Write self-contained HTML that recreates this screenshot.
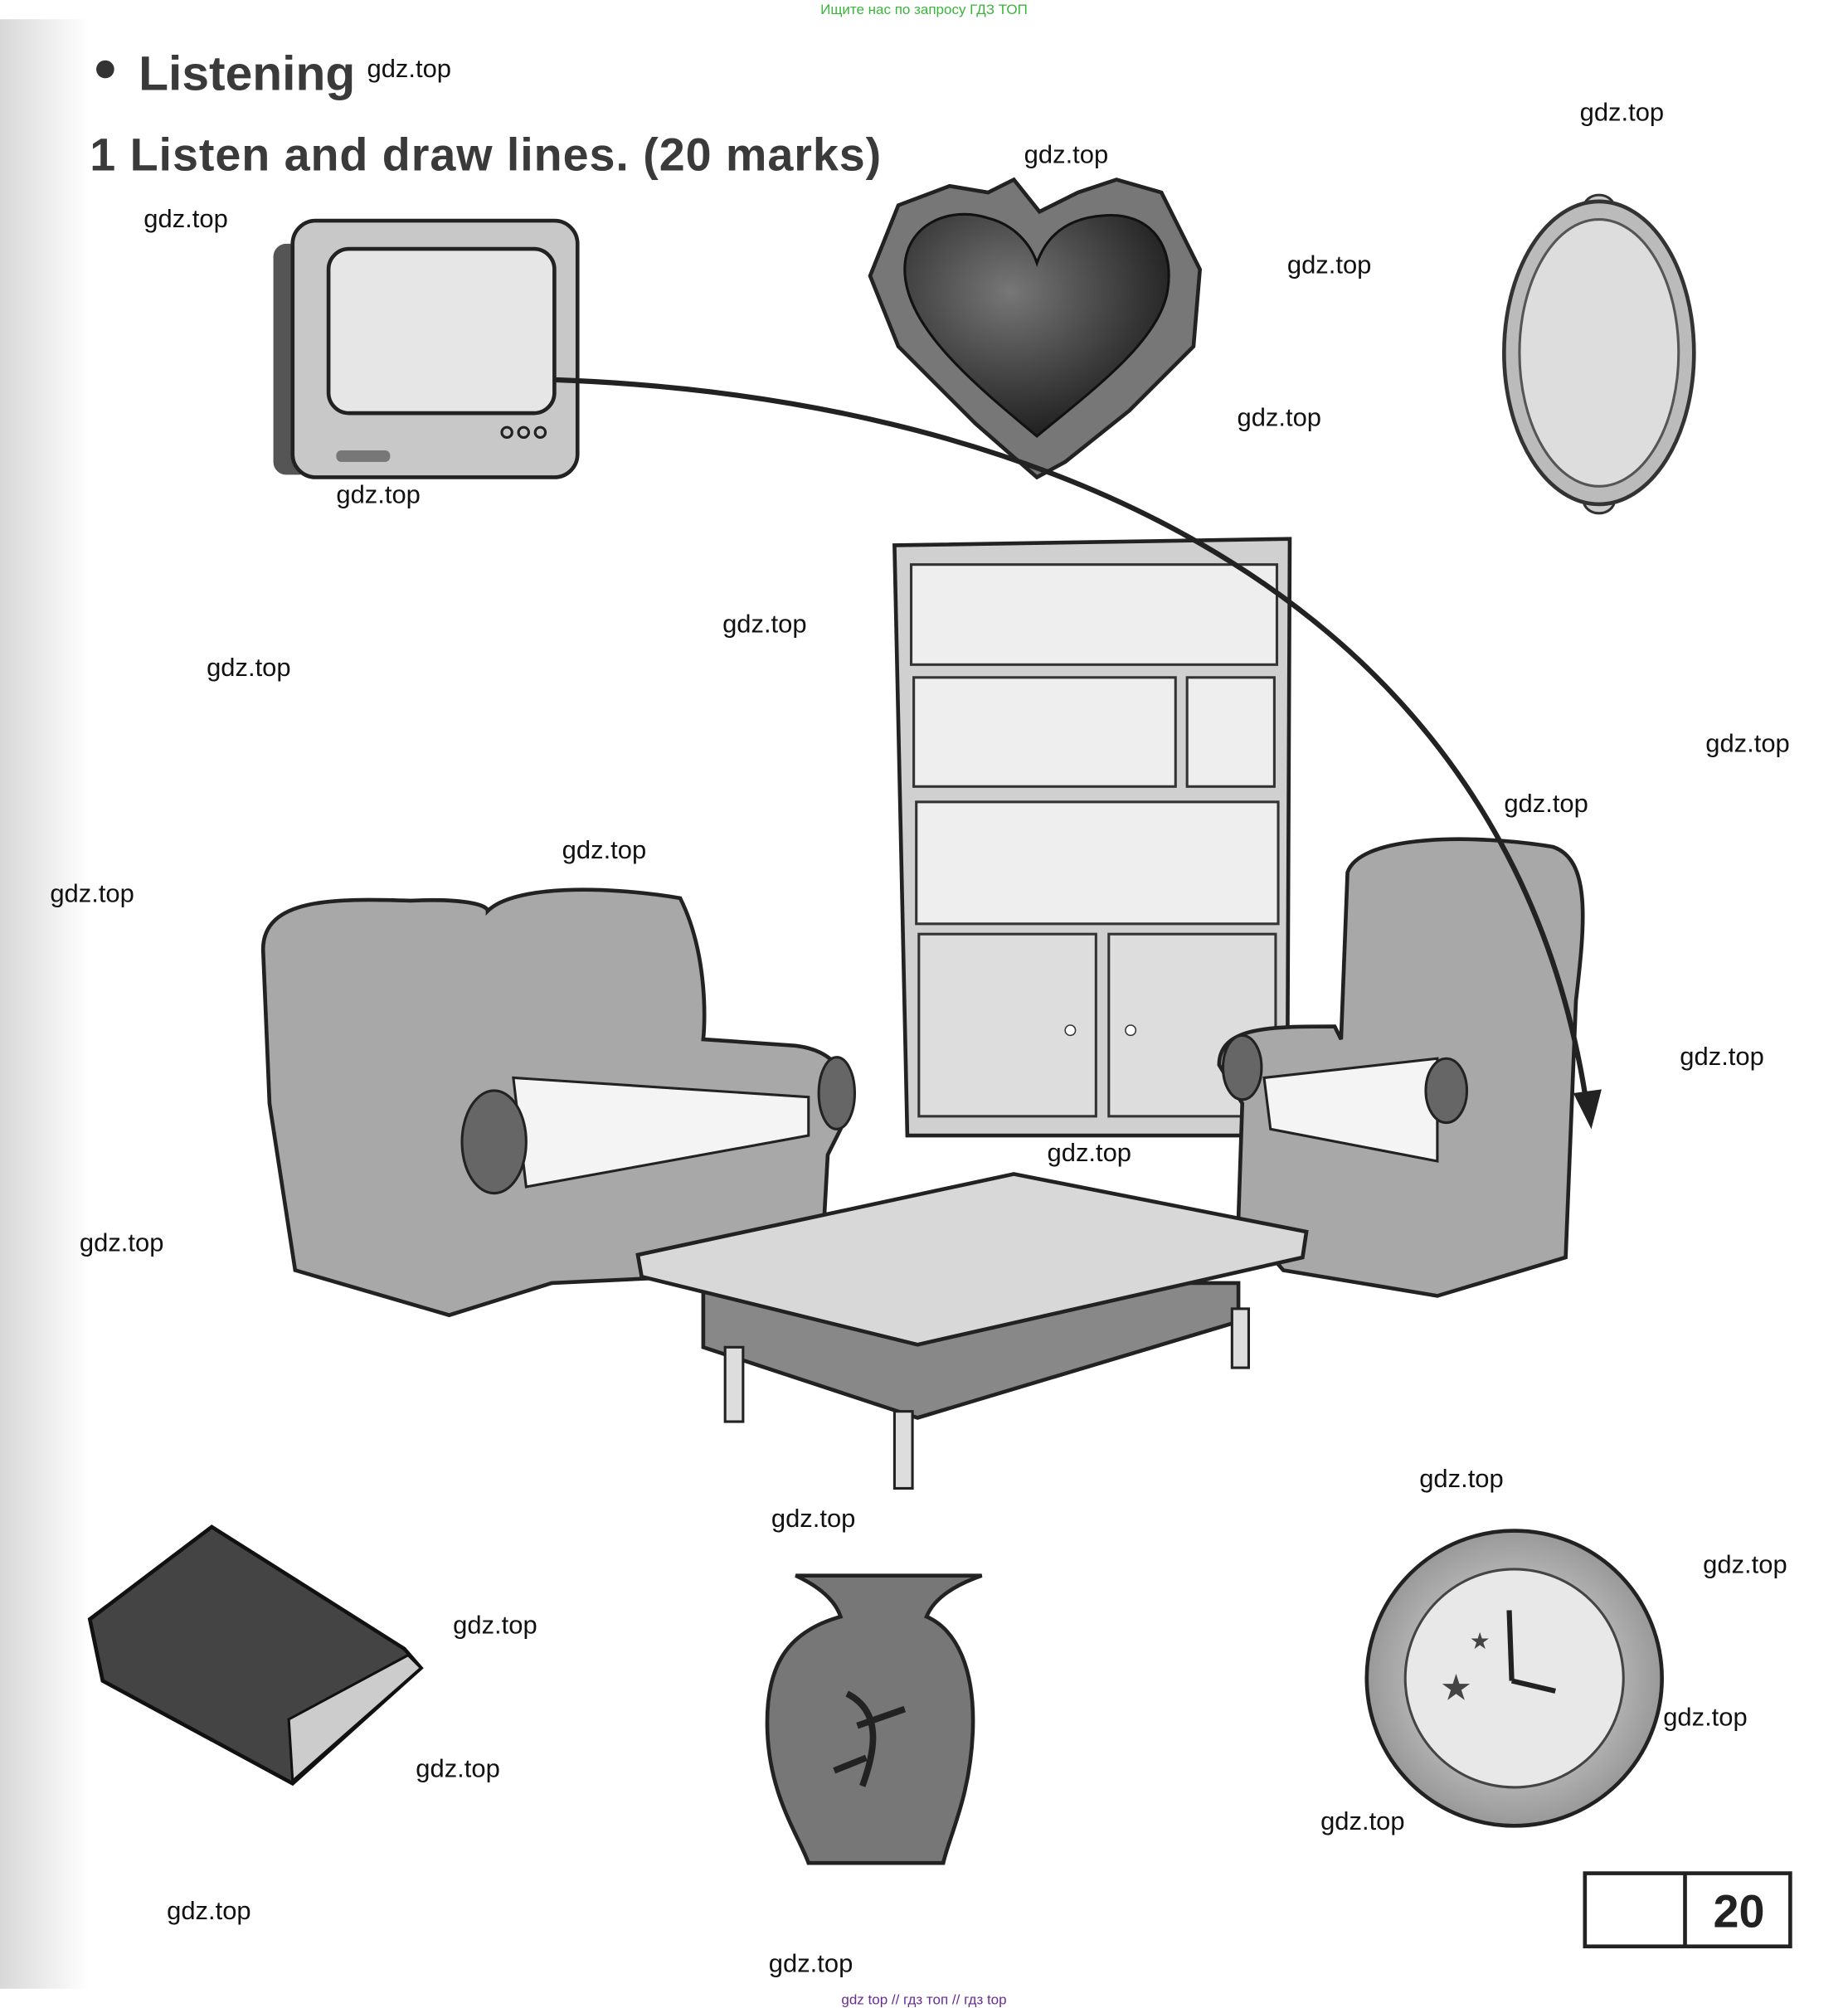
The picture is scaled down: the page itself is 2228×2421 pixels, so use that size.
<!DOCTYPE html>
<html><head><meta charset="utf-8"><style>
html,body{margin:0;padding:0;background:#fff;}
svg{display:block;}
.w{font-family:"Liberation Sans",sans-serif;font-size:20px;fill:#111;}
</style></head><body>
<svg width="2228" height="2421" viewBox="0 0 1440 1565" preserveAspectRatio="none" xmlns="http://www.w3.org/2000/svg">
<defs>
<linearGradient id="lg" x1="0" x2="1"><stop offset="0" stop-color="#d8d8d8"/><stop offset="1" stop-color="#fff"/></linearGradient>
<radialGradient id="hg" cx="0.4" cy="0.35" r="0.7"><stop offset="0" stop-color="#777"/><stop offset="1" stop-color="#1a1a1a"/></radialGradient>
<radialGradient id="cg" cx="0.5" cy="0.5" r="0.6"><stop offset="0" stop-color="#eee"/><stop offset="1" stop-color="#888"/></radialGradient>
</defs>
<rect width="1440" height="1565" fill="#fff"/>
<rect x="0" y="15" width="70" height="1535" fill="url(#lg)"/>
<text x="720" y="11" text-anchor="middle" font-family="Liberation Sans,sans-serif" font-size="11" fill="#3cb43c">Ищите нас по запросу ГДЗ ТОП</text>
<circle cx="82" cy="54" r="7" fill="#333"/>
<text x="108" y="70" font-family="Liberation Sans,sans-serif" font-weight="bold" font-size="38" fill="#3a3a3a">Listening</text>
<text x="70" y="133" font-family="Liberation Sans,sans-serif" font-weight="bold" font-size="36" letter-spacing="0.6" fill="#3a3a3a">1  Listen and draw lines. (20 marks)</text>

<!-- TV -->
<rect x="213" y="190" width="30" height="180" rx="10" fill="#555"/>
<rect x="228" y="172" width="222" height="200" rx="18" fill="#c8c8c8" stroke="#222" stroke-width="3"/>
<rect x="256" y="194" width="176" height="128" rx="16" fill="#e6e6e6" stroke="#222" stroke-width="3"/>
<rect x="262" y="351" width="42" height="9" rx="4" fill="#777"/>
<circle cx="395" cy="337" r="4" fill="none" stroke="#222" stroke-width="2"/><circle cx="408" cy="337" r="4" fill="none" stroke="#222" stroke-width="2"/><circle cx="421" cy="337" r="4" fill="none" stroke="#222" stroke-width="2"/>

<!-- heart -->
<path d="M808,372 L760,330 L700,270 L678,215 L700,160 L740,145 L770,150 L790,140 L810,165 L840,150 L870,140 L905,150 L935,210 L930,270 L880,320 L830,360 Z" fill="#777" stroke="#222" stroke-width="3"/>
<path d="M808,340 C760,300 705,255 705,210 C705,175 740,160 770,170 C790,175 803,190 808,205 C815,185 830,170 860,168 C895,165 915,190 910,225 C905,265 850,305 808,340 Z" fill="url(#hg)" stroke="#111" stroke-width="2"/>

<!-- mirror -->
<ellipse cx="1246" cy="162" rx="12" ry="10" fill="#ccc" stroke="#333" stroke-width="2"/>
<ellipse cx="1246" cy="390" rx="12" ry="10" fill="#ccc" stroke="#333" stroke-width="2"/>
<ellipse cx="1246" cy="275" rx="74" ry="118" fill="#bbb" stroke="#333" stroke-width="3"/>
<ellipse cx="1246" cy="275" rx="62" ry="104" fill="#ddd" stroke="#555" stroke-width="2"/>

<!-- bookcase -->
<path d="M697,425 L1005,420 L1003,885 L707,885 Z" fill="#d0d0d0" stroke="#222" stroke-width="3"/>
<rect x="710" y="440" width="285" height="78" fill="#eee" stroke="#333" stroke-width="2"/>
<rect x="712" y="528" width="204" height="85" fill="#eee" stroke="#333" stroke-width="2"/>
<rect x="925" y="528" width="68" height="85" fill="#eee" stroke="#333" stroke-width="2"/>
<rect x="714" y="625" width="282" height="95" fill="#eee" stroke="#333" stroke-width="2"/>
<rect x="716" y="728" width="138" height="142" fill="#ddd" stroke="#333" stroke-width="2"/>
<rect x="864" y="728" width="130" height="142" fill="#ddd" stroke="#333" stroke-width="2"/>
<circle cx="834" cy="803" r="4" fill="#fff" stroke="#333"/><circle cx="881" cy="803" r="4" fill="#fff" stroke="#333"/>

<!-- sofa -->
<path d="M210,860 L205,740 C205,700 260,700 320,702 C360,700 380,705 380,710 C400,690 470,690 530,700 C550,740 550,790 548,810 L620,815 C660,820 665,850 655,880 L645,900 L640,990 L430,1000 L350,1025 L230,990 Z" fill="#a8a8a8" stroke="#222" stroke-width="3"/>
<path d="M400,840 L630,855 L630,885 L410,925 Z" fill="#f4f4f4" stroke="#222" stroke-width="2"/>
<ellipse cx="385" cy="890" rx="25" ry="40" fill="#666" stroke="#222" stroke-width="2"/>
<ellipse cx="652" cy="852" rx="14" ry="28" fill="#666" stroke="#222" stroke-width="2"/>

<!-- armchair -->
<path d="M1045,810 L1050,680 C1060,650 1150,650 1210,660 C1240,670 1235,720 1228,780 L1220,980 L1120,1010 L1000,990 L965,950 L968,860 L950,830 C950,800 990,800 1040,800 Z" fill="#a8a8a8" stroke="#222" stroke-width="3"/>
<path d="M985,840 L1120,825 L1120,905 L990,880 Z" fill="#f4f4f4" stroke="#222" stroke-width="2"/>
<ellipse cx="968" cy="832" rx="15" ry="25" fill="#666" stroke="#222" stroke-width="2"/>
<ellipse cx="1127" cy="850" rx="16" ry="25" fill="#666" stroke="#222" stroke-width="2"/>

<!-- table -->
<path d="M548,1000 L548,1050 L715,1105 L965,1030 L965,1000 Z" fill="#888" stroke="#222" stroke-width="3"/>
<rect x="565" y="1050" width="14" height="58" fill="#ddd" stroke="#222" stroke-width="2"/>
<rect x="697" y="1100" width="14" height="60" fill="#ddd" stroke="#222" stroke-width="2"/>
<rect x="960" y="1020" width="13" height="46" fill="#ddd" stroke="#222" stroke-width="2"/>
<path d="M497,978 L790,915 L1018,960 L1015,980 L715,1048 L500,995 Z" fill="#d8d8d8" stroke="#222" stroke-width="3"/>

<!-- arrow -->
<path d="M432,296 C820,310 1180,470 1237,865" fill="none" stroke="#222" stroke-width="4"/>
<path d="M1226,852 L1240,880 L1248,849 Z" fill="#222"/>

<!-- book -->
<path d="M70,1262 L165,1190 L315,1285 L328,1300 L228,1390 L80,1310 Z" fill="#444" stroke="#111" stroke-width="3"/>
<path d="M225,1340 L318,1290 L328,1300 L228,1388 Z" fill="#ccc" stroke="#111" stroke-width="2"/>

<!-- vase -->
<path d="M620,1228 L765,1228 C745,1235 728,1245 722,1260 C745,1270 760,1300 758,1350 C756,1400 740,1430 735,1452 L630,1452 C622,1430 600,1400 598,1350 C596,1300 612,1272 655,1260 C650,1245 635,1235 620,1228 Z" fill="#777" stroke="#222" stroke-width="3"/>
<path d="M660,1320 C690,1335 680,1370 672,1392 M668,1345 L705,1332 M650,1380 L675,1370" stroke="#222" stroke-width="5" fill="none"/>

<!-- clock -->
<circle cx="1180" cy="1308" r="115" fill="url(#cg)" stroke="#222" stroke-width="3"/>
<circle cx="1180" cy="1308" r="85" fill="#e8e8e8" stroke="#444" stroke-width="2"/>
<line x1="1178" y1="1310" x2="1176" y2="1255" stroke="#222" stroke-width="4"/>
<line x1="1178" y1="1310" x2="1212" y2="1318" stroke="#222" stroke-width="4"/>
<text x="1122" y="1325" font-size="28" fill="#444">★</text>
<text x="1145" y="1285" font-size="18" fill="#444">★</text>

<!-- score box -->
<rect x="1235" y="1460" width="160" height="57" fill="#fff" stroke="#222" stroke-width="3"/>
<line x1="1313" y1="1460" x2="1313" y2="1517" stroke="#222" stroke-width="3"/>
<text x="1355" y="1502" text-anchor="middle" font-family="Liberation Sans,sans-serif" font-weight="bold" font-size="36" fill="#222">20</text>

<!-- watermarks -->
<g class="w">
<text x="286" y="60">gdz.top</text><text x="1231" y="94">gdz.top</text><text x="798" y="127">gdz.top</text>
<text x="112" y="177">gdz.top</text><text x="1003" y="213">gdz.top</text><text x="964" y="332">gdz.top</text>
<text x="262" y="392">gdz.top</text><text x="563" y="493">gdz.top</text><text x="161" y="527">gdz.top</text>
<text x="1329" y="586">gdz.top</text><text x="1172" y="633">gdz.top</text><text x="438" y="669">gdz.top</text>
<text x="39" y="703">gdz.top</text><text x="1309" y="830">gdz.top</text><text x="816" y="905">gdz.top</text>
<text x="62" y="975">gdz.top</text><text x="1106" y="1159">gdz.top</text><text x="601" y="1190">gdz.top</text>
<text x="1327" y="1226">gdz.top</text><text x="353" y="1273">gdz.top</text><text x="1296" y="1345">gdz.top</text>
<text x="324" y="1385">gdz.top</text><text x="1029" y="1426">gdz.top</text><text x="130" y="1496">gdz.top</text>
<text x="599" y="1537">gdz.top</text>
</g>
<text x="720" y="1562" text-anchor="middle" font-family="Liberation Sans,sans-serif" font-size="11" fill="#6a2c91">gdz top  //  гдз топ  //  гдз top</text>
</svg>
</body></html>
